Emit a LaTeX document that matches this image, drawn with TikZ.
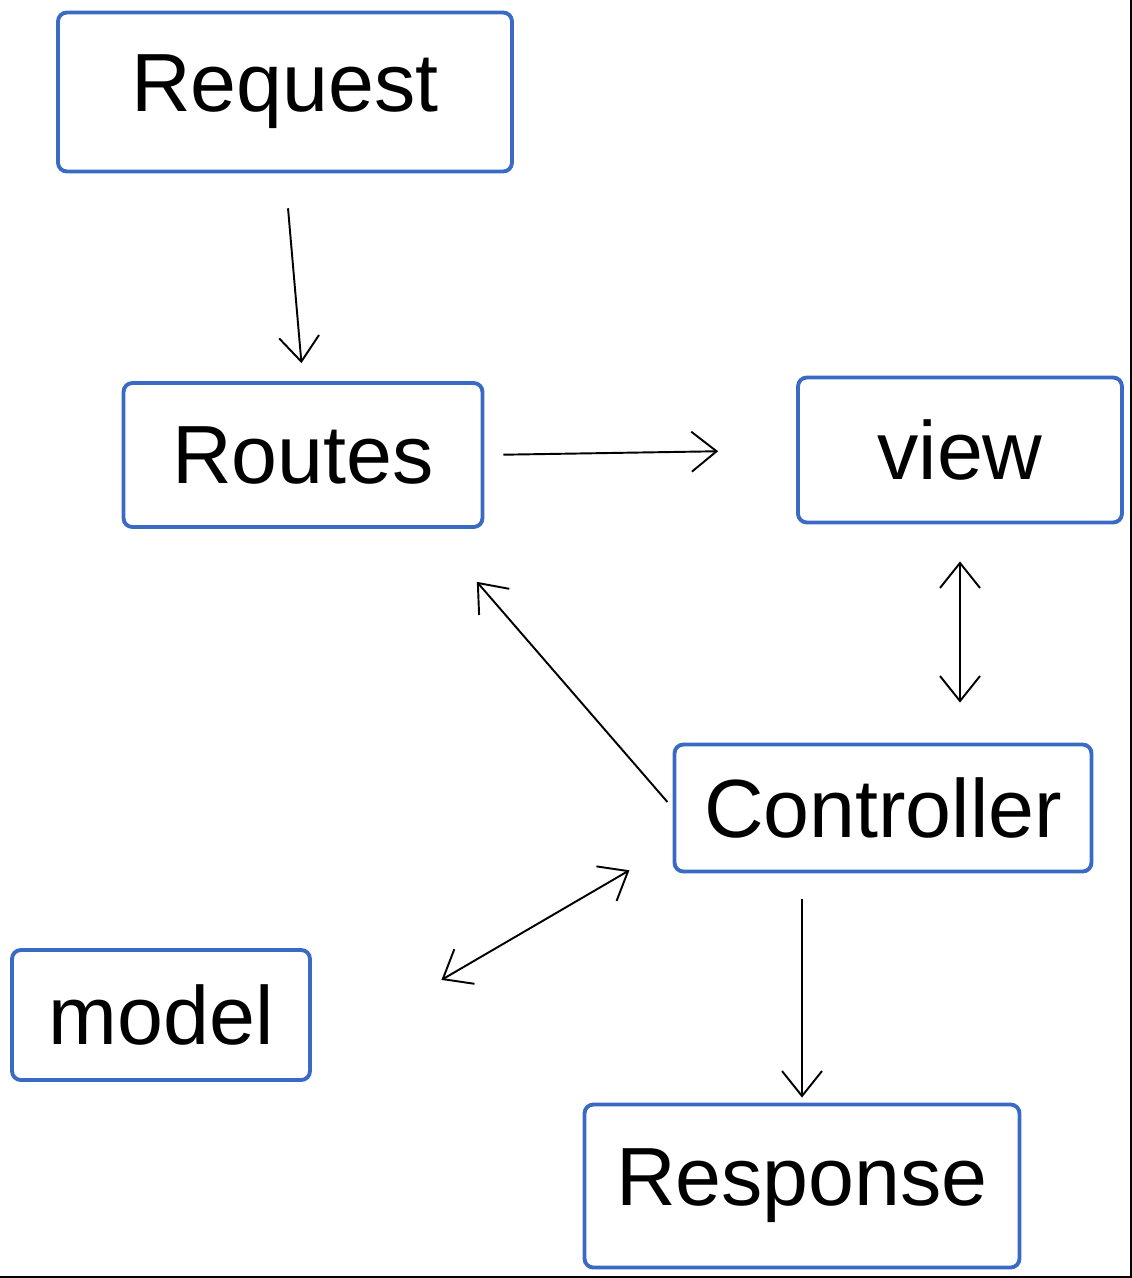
\documentclass[tikz,border=0pt]{standalone}
\usepackage{fontspec}
\setmainfont{Liberation Sans}
\usetikzlibrary{arrows.meta}
\definecolor{penblue}{HTML}{3A6BC4}
\tikzset{box/.style={draw=penblue, line width=2.2pt, rounded corners=5pt, inner sep=0pt,
  font=\fontsize{47}{56}\selectfont}}

\begin{document}
\begin{tikzpicture}[>={Straight Barb[length=5mm,width=8mm]}, x=0.02cm, y=-0.02cm, line width=1.1pt]
\useasboundingbox (0,0) rectangle (1132,1278);
\draw (1131,0)--(1131,1277)--(0,1277);

\node[box, minimum width=9.08cm, minimum height=3.18cm] (req) at (285,92) {Request};
\node[box, minimum width=7.18cm, minimum height=2.88cm] (routes) at (303,455) {Routes};
\node[box, minimum width=6.48cm, minimum height=2.9cm] (view) at (960,450) {view};
\node[box, minimum width=8.34cm, minimum height=2.54cm] (ctrl) at (883,808) {Controller};
\node[box, minimum width=5.96cm, minimum height=2.6cm] (model) at (161,1015) {model};
\node[box, minimum width=8.7cm, minimum height=3.26cm] (resp) at (802,1186) {Response};

\draw[->, shorten <=0.7cm, shorten >=0.36cm] (req.south)--(routes.north);
\draw[->, shorten <=0.38cm, shorten >=1.56cm] (routes.east)--(view.west);
\draw[<->, shorten <=0.74cm, shorten >=0.8cm] (view.south)--(view.south |- ctrl.north);
\draw[->, shorten <=0.16cm, shorten >=1.4cm] (ctrl.west)--(routes.-30);
\draw[<->, shorten <=1cm, shorten >=3cm] (ctrl.190)--(model.-15);
\draw[->, shorten <=0.52cm, shorten >=0.1cm] (ctrl.south -| resp.north)--(resp.north);

\end{tikzpicture}
\end{document}
